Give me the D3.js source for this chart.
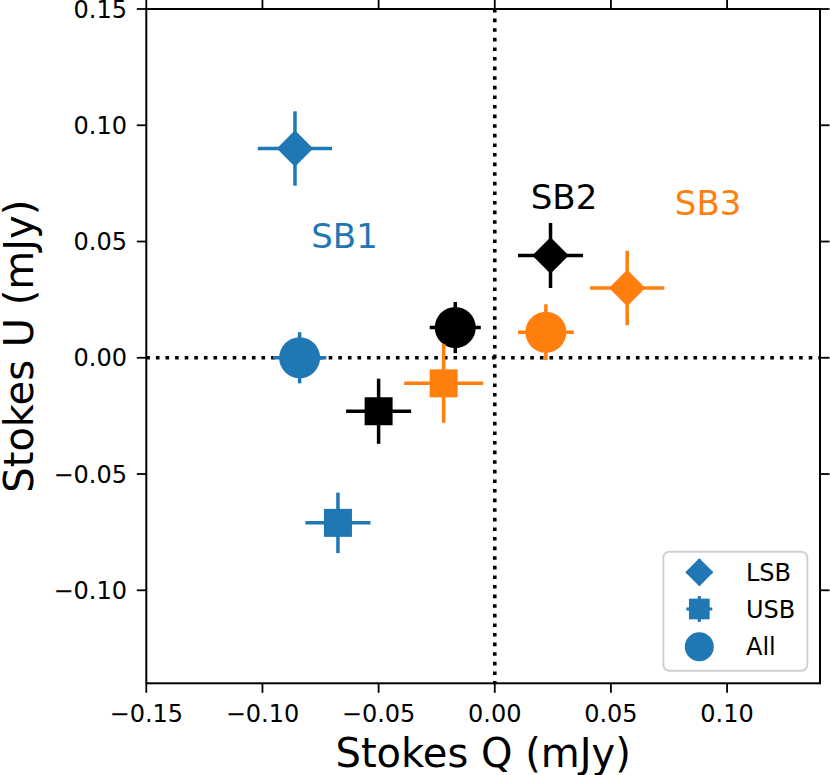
<!DOCTYPE html>
<meta charset="utf-8">
<script src="https://d3js.org/d3.v7.min.js"></script>
<style>
  body { margin: 0; background: #fff; }
  text { font-family: "DejaVu Sans", sans-serif; }
</style>
<div id="chart"></div>
<script>
  // sidebands and their colours
  var bands = ["SB1", "SB2", "SB3"];
  var bandColor = { SB1: "#1f77b4", SB2: "#000000", SB3: "#ff7f0e" };

  // LSB values (mJy)
  var lsbQ = [-0.086, 0.024, 0.057];
  var lsbU = [0.090, 0.044, 0.030];
  var lsbQerr = [0.016, 0.014, 0.016];
  var lsbUerr = [0.016, 0.014, 0.016];

  // USB values (mJy)
  var usbQ = [-0.0675, -0.050, -0.022];
  var usbU = [-0.071, -0.023, -0.011];
  var usbQerr = [0.014, 0.014, 0.017];
  var usbUerr = [0.013, 0.014, 0.017];

  // All (combined) values (mJy)
  var allQ = [-0.084, -0.017, 0.022];
  var allU = [0.000, 0.013, 0.011];
  var allQerr = [0.0115, 0.011, 0.012];
  var allUerr = [0.011, 0.011, 0.012];

  // band label anchors, data coordinates
  var labelQ = [-0.079, 0.0155, 0.0775];
  var labelU = [0.047, 0.064, 0.0615];

  var xTicks = [-0.15, -0.10, -0.05, 0.00, 0.05, 0.10];
  var yTicks = [-0.10, -0.05, 0.00, 0.05, 0.10, 0.15];
  var legendNames = ["LSB", "USB", "All"];

  var W = 830, H = 775;
  var pLeft = 146.3, pRight = 820, pTop = 9, pBottom = 683.3;

  var x = d3.scaleLinear().domain([-0.15, 0.14]).range([pLeft, pRight]);
  var y = d3.scaleLinear().domain([-0.14, 0.15]).range([pBottom, pTop]);

  var svg = d3.select("#chart").append("svg")
    .attr("width", W).attr("height", H);

  var fmt = function (d) { return d3.format(".2f")(d).replace("-", "\u2212"); };

  // zero lines
  svg.append("line")
    .attr("x1", pLeft).attr("x2", pRight).attr("y1", y(0)).attr("y2", y(0))
    .attr("stroke", "#000").attr("stroke-width", 3.6).attr("stroke-dasharray", "3.6,6");
  svg.append("line")
    .attr("x1", x(0)).attr("x2", x(0)).attr("y1", pTop).attr("y2", pBottom)
    .attr("stroke", "#000").attr("stroke-width", 3.6).attr("stroke-dasharray", "3.6,6");

  // markers
  var shapes = {
    LSB: d3.symbol().type(d3.symbolSquare).size(660),
    USB: d3.symbol().type(d3.symbolSquare).size(784),
    All: d3.symbol().type(d3.symbolCircle).size(1320)
  };
  var rot = { LSB: 45, USB: 0, All: 0 };

  var series = [
    { name: "LSB", q: lsbQ, u: lsbU, qe: lsbQerr, ue: lsbUerr },
    { name: "USB", q: usbQ, u: usbU, qe: usbQerr, ue: usbUerr },
    { name: "All", q: allQ, u: allU, qe: allQerr, ue: allUerr }
  ];

  bands.forEach(function (b, i) {
    var c = bandColor[b];
    series.forEach(function (s) {
      var g = svg.append("g");
      g.append("line")
        .attr("x1", x(s.q[i] - s.qe[i])).attr("x2", x(s.q[i] + s.qe[i]))
        .attr("y1", y(s.u[i])).attr("y2", y(s.u[i]))
        .attr("stroke", c).attr("stroke-width", 3.5);
      g.append("line")
        .attr("x1", x(s.q[i])).attr("x2", x(s.q[i]))
        .attr("y1", y(s.u[i] - s.ue[i])).attr("y2", y(s.u[i] + s.ue[i]))
        .attr("stroke", c).attr("stroke-width", 3.5);
      g.append("path")
        .attr("d", shapes[s.name]())
        .attr("transform", "translate(" + x(s.q[i]) + "," + y(s.u[i]) + ") rotate(" + rot[s.name] + ")")
        .attr("fill", c);
    });

    svg.append("text")
      .attr("x", x(labelQ[i])).attr("y", y(labelU[i]))
      .attr("fill", bandColor[b])
      .style("font-size", "34px")
      .text(b);
  });

  // spines and ticks
  svg.append("rect")
    .attr("x", pLeft).attr("y", pTop)
    .attr("width", pRight - pLeft).attr("height", pBottom - pTop)
    .attr("fill", "none").attr("stroke", "#000").attr("stroke-width", 2);

  var tk = 9.5;
  xTicks.forEach(function (t) {
    svg.append("line").attr("x1", x(t)).attr("x2", x(t))
      .attr("y1", pBottom).attr("y2", pBottom + tk)
      .attr("stroke", "#000").attr("stroke-width", 1.8);
    svg.append("line").attr("x1", x(t)).attr("x2", x(t))
      .attr("y1", pTop).attr("y2", pTop - tk)
      .attr("stroke", "#000").attr("stroke-width", 1.8);
    svg.append("text")
      .attr("x", x(t)).attr("y", 721.7)
      .attr("text-anchor", "middle")
      .style("font-size", "24px")
      .text(fmt(t));
  });
  yTicks.forEach(function (t) {
    svg.append("line").attr("x1", pLeft - tk).attr("x2", pLeft)
      .attr("y1", y(t)).attr("y2", y(t))
      .attr("stroke", "#000").attr("stroke-width", 1.8);
    svg.append("line").attr("x1", pRight).attr("x2", pRight + tk)
      .attr("y1", y(t)).attr("y2", y(t))
      .attr("stroke", "#000").attr("stroke-width", 1.8);
    svg.append("text")
      .attr("x", 127).attr("y", y(t))
      .attr("dy", "0.36em")
      .attr("text-anchor", "end")
      .style("font-size", "24px")
      .text(fmt(t));
  });

  // axis labels
  svg.append("text")
    .attr("x", (pLeft + pRight) / 2).attr("y", 766.5)
    .attr("text-anchor", "middle")
    .style("font-size", "40px")
    .text("Stokes Q (mJy)");
  svg.append("text")
    .attr("transform", "translate(33," + (pTop + pBottom) / 2 + ") rotate(-90)")
    .attr("text-anchor", "middle")
    .style("font-size", "40px")
    .text("Stokes U (mJy)");

  // legend
  var lg = svg.append("g");
  lg.append("rect")
    .attr("x", 663.3).attr("y", 551.7).attr("width", 144).attr("height", 119)
    .attr("rx", 6).attr("fill", "#fff")
    .attr("stroke", "#d0d0d0").attr("stroke-width", 2);
  var legShapes = {
    LSB: d3.symbol().type(d3.symbolSquare).size(392),
    USB: d3.symbol().type(d3.symbolSquare).size(428),
    All: d3.symbol().type(d3.symbolCircle).size(660)
  };
  var rowY = [572.3, 609, 646.7];
  legendNames.forEach(function (n, i) {
    var cx = 699.3, cy = rowY[i];
    lg.append("line").attr("x1", cx - 13).attr("x2", cx + 13).attr("y1", cy).attr("y2", cy)
      .attr("stroke", "#1f77b4").attr("stroke-width", 3);
    lg.append("line").attr("x1", cx).attr("x2", cx).attr("y1", cy - 13).attr("y2", cy + 13)
      .attr("stroke", "#1f77b4").attr("stroke-width", 3);
    lg.append("path")
      .attr("d", legShapes[n]())
      .attr("transform", "translate(" + cx + "," + cy + ") rotate(" + rot[n] + ")")
      .attr("fill", "#1f77b4");
    lg.append("text")
      .attr("x", 746).attr("y", cy).attr("dy", "0.36em")
      .style("font-size", "24px")
      .text(n);
  });
</script>
